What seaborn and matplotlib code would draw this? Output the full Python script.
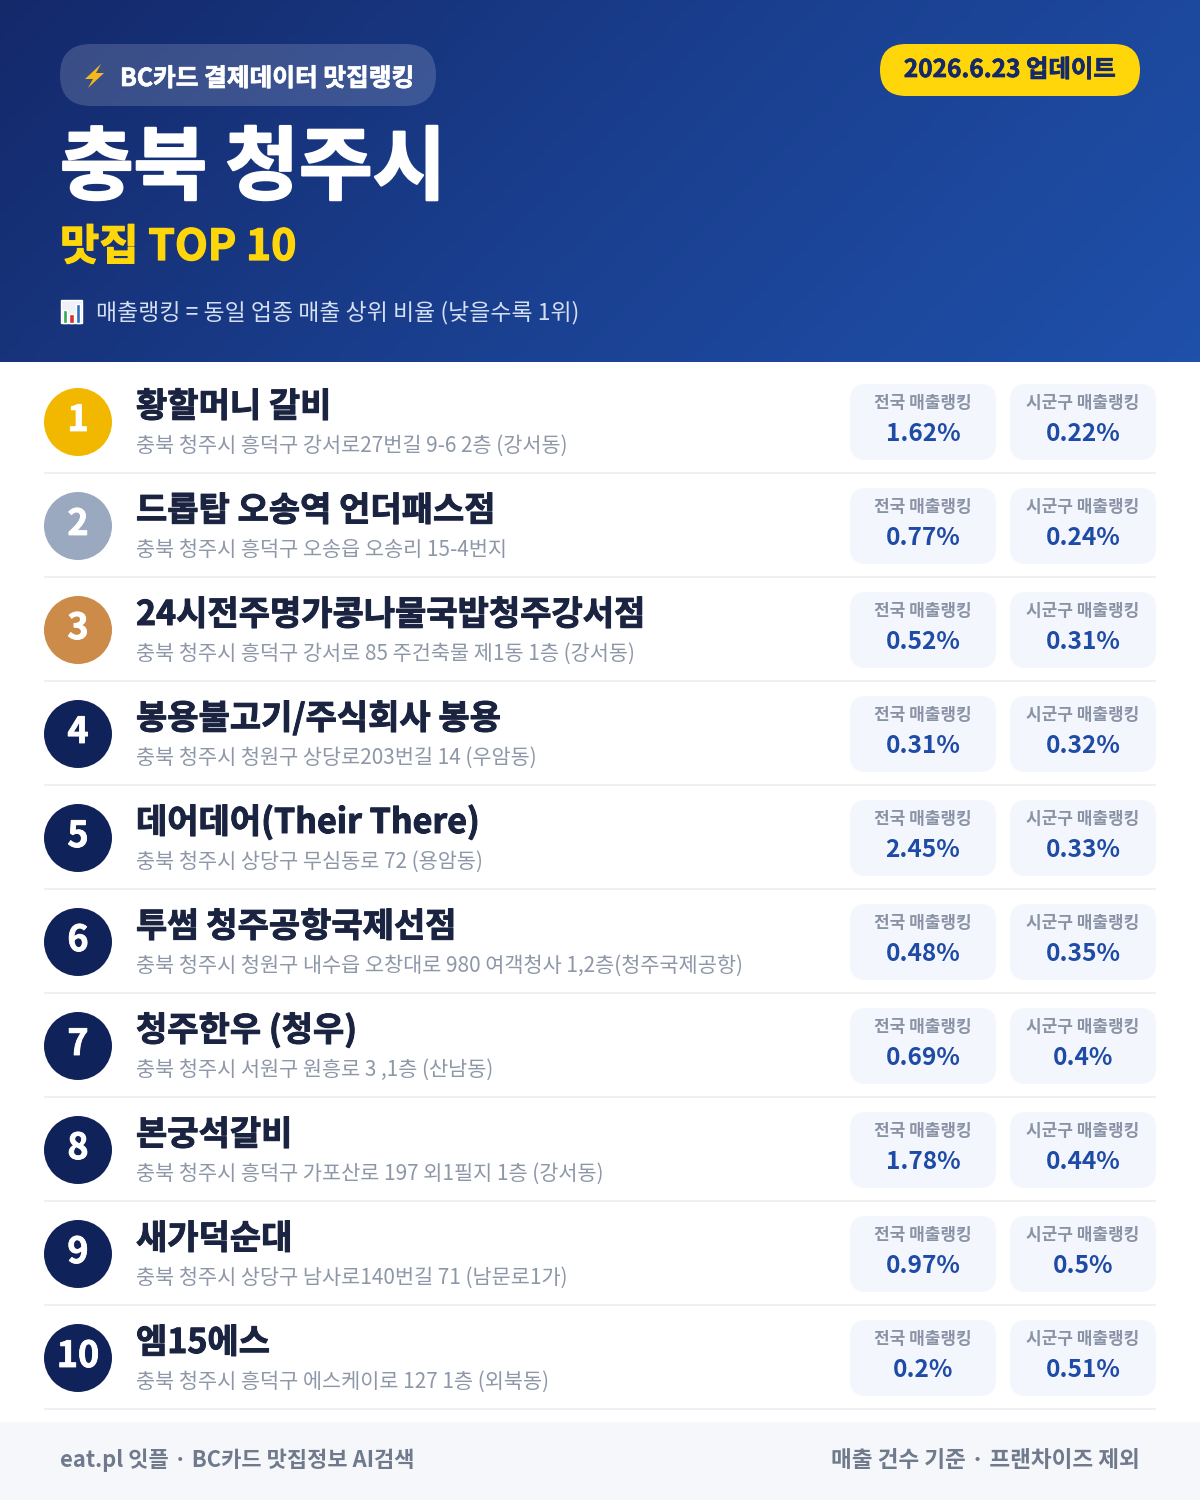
import numpy as np
import pandas as pd
import matplotlib
matplotlib.use('Agg')
import matplotlib.pyplot as plt
import matplotlib.patheffects as pe
from matplotlib.colors import LinearSegmentedColormap
from matplotlib.patches import FancyBboxPatch, Rectangle, Polygon
import seaborn as sns

# data
ranks = [1, 2, 3, 4, 5, 6, 7, 8, 9, 10]
names = ['황할머니 갈비', '드롭탑 오송역 언더패스점', '24시전주명가콩나물국밥청주강서점',
         '봉용불고기/주식회사 봉용', '데어데어(Their There)', '투썸 청주공항국제선점',
         '청주한우 (청우)', '본궁석갈비', '새가덕순대', '엠15에스']
addresses = ['충북 청주시 흥덕구 강서로27번길 9-6 2층 (강서동)',
             '충북 청주시 흥덕구 오송읍 오송리 15-4번지',
             '충북 청주시 흥덕구 강서로 85 주건축물 제1동 1층 (강서동)',
             '충북 청주시 청원구 상당로203번길 14 (우암동)',
             '충북 청주시 상당구 무심동로 72 (용암동)',
             '충북 청주시 청원구 내수읍 오창대로 980 여객청사 1,2층(청주국제공항)',
             '충북 청주시 서원구 원흥로 3 ,1층 (산남동)',
             '충북 청주시 흥덕구 가포산로 197 외1필지 1층 (강서동)',
             '충북 청주시 상당구 남사로140번길 71 (남문로1가)',
             '충북 청주시 흥덕구 에스케이로 127 1층 (외북동)']
national = [1.62, 0.77, 0.52, 0.31, 2.45, 0.48, 0.69, 1.78, 0.97, 0.2]
local = [0.22, 0.24, 0.31, 0.32, 0.33, 0.35, 0.4, 0.44, 0.5, 0.51]

sns.set_theme(style='white')
plt.rcParams['font.family'] = ['Noto Sans CJK KR', 'DejaVu Sans']

fig = plt.figure(figsize=(12, 15), dpi=100)
ax = fig.add_axes([0, 0, 1, 1])

def px(size):
    return size * 0.72

def rbox(x0, y0, x1, y1, r, **kw):
    ax.add_patch(FancyBboxPatch((x0, y0), x1 - x0, y1 - y0,
                                boxstyle=f'round,pad=0,rounding_size={r}',
                                linewidth=0, **kw))

def heavy(txt, w):
    # the font stops at bold, thicken it a bit with an outline
    txt.set_path_effects([pe.withStroke(linewidth=w, foreground=txt.get_color())])

# header gradient
gx, gy = np.meshgrid(np.linspace(0, 1, 300), np.linspace(0, 1, 100))
cmap = LinearSegmentedColormap.from_list('head', ['#14296a', '#1a3f8f', '#1f50aa'])
ax.imshow((gx * 1200 + gy * 362) / 1562, extent=(0, 1200, 362, 0), cmap=cmap,
          aspect='auto', zorder=0)

rbox(60, 44, 436, 106, 31, facecolor='white', alpha=0.16, zorder=1)
rbox(880, 44, 1140, 96, 26, facecolor='#ffd60a', zorder=1)

# lightning icon
ax.add_patch(Polygon([(101, 64), (85, 79), (93, 79), (88, 88), (104, 73), (96, 73)],
                     facecolor='#f5b91e', edgecolor='none', zorder=2))
heavy(ax.text(120, 86, 'BC카드 결제데이터 맛집랭킹', fontsize=px(24.7), fontweight='bold',
              color='white', va='baseline', zorder=2), 0.5)
heavy(ax.text(1010, 77, '2026.6.23 업데이트', fontsize=px(24.4), fontweight='bold',
              color='#14296a', va='baseline', ha='center', zorder=2), 0.5)
heavy(ax.text(60, 193, '충북 청주시', fontsize=px(80), fontweight='bold',
              color='white', va='baseline', zorder=2), 1.6)
heavy(ax.text(60, 260, '맛집 TOP 10', fontsize=px(42.7), fontweight='bold',
              color='#ffd60a', va='baseline', zorder=2), 0.9)

# chart icon
ax.add_patch(Rectangle((61, 300), 21, 23, facecolor='#eef2f7', zorder=2))
ax.add_patch(Rectangle((63, 310), 4, 13, facecolor='#3aa655', zorder=3))
ax.add_patch(Rectangle((69, 314), 5, 9, facecolor='#d8322f', zorder=3))
ax.add_patch(Rectangle((76, 304), 4, 19, facecolor='#2f6fc0', zorder=3))
ax.text(96, 319, '매출랭킹 = 동일 업종 매출 상위 비율 (낮을수록 1위)', fontsize=px(22.9),
        color='#d5dff2', va='baseline', zorder=2)

# rank circles
row_y = [422 + 104 * i for i in range(len(ranks))]
df = pd.DataFrame({'rank': ranks, 'x': [78] * len(ranks), 'y': row_y})
colors = {r: '#10225a' for r in ranks}
colors[1] = '#f2b800'
colors[2] = '#9aa8c0'
colors[3] = '#cd8b4a'
sns.scatterplot(data=df, x='x', y='y', hue='rank', palette=colors, s=px(68) ** 2,
                linewidth=0, legend=False, ax=ax, zorder=2)

for r, name, addr, nat, loc, y in zip(ranks, names, addresses, national, local, row_y):
    heavy(ax.text(78, y + 9, str(r), fontsize=px(36), fontweight='bold', color='white',
                  ha='center', va='baseline', zorder=3), 0.6)
    heavy(ax.text(136, y - 5, name, fontsize=px(34), fontweight='bold', color='#1a2340',
                  va='baseline', zorder=2), 0.7)
    ax.text(136, y + 29.5, addr, fontsize=px(20.8), color='#8d97a8', va='baseline', zorder=2)
    for x0, label, val in [(850, '전국 매출랭킹', nat), (1010, '시군구 매출랭킹', loc)]:
        rbox(x0, y - 38, x0 + 146, y + 38, 16, facecolor='#f3f6fd', zorder=1)
        ax.text(x0 + 73, y - 14.5, label, fontsize=px(17), fontweight='bold', color='#8a93a5',
                ha='center', va='baseline', zorder=2)
        ax.text(x0 + 73, y + 19, f'{val:g}%', fontsize=px(24.5), fontweight='bold', color='#1e4ba5',
                ha='center', va='baseline', zorder=2)
    ax.hlines(y + 51, 44, 1156, color='#eef0f4', linewidth=px(2), zorder=1)

# footer
ax.add_patch(Rectangle((0, 1422), 1200, 78, facecolor='#f6f7fa', linewidth=0, zorder=1))
ax.text(60, 1467, 'eat.pl 잇플 · BC카드 맛집정보 AI검색', fontsize=px(22), fontweight='bold',
        color='#6f7a8d', va='baseline', zorder=2)
ax.text(1140, 1467, '매출 건수 기준 · 프랜차이즈 제외', fontsize=px(22.6), fontweight='bold',
        color='#6f7a8d', va='baseline', ha='right', zorder=2)

ax.set_xlim(0, 1200)
ax.set_ylim(1500, 0)
ax.axis('off')
plt.savefig('out.png', dpi=100)
